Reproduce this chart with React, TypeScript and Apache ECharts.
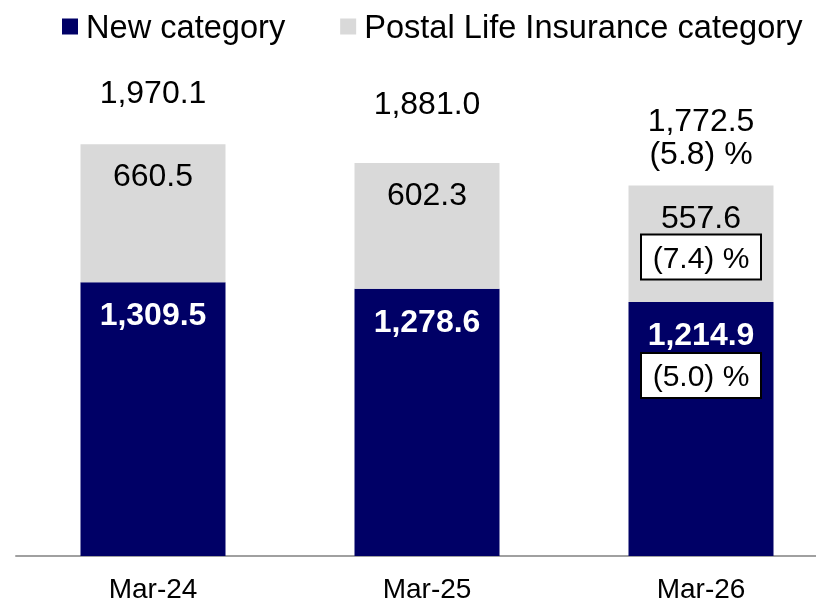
import React, { useEffect, useRef } from "react";
import * as echarts from "echarts";

const categories = ["Mar-24", "Mar-25", "Mar-26"];
const newCategory = [1309.5, 1278.6, 1214.9];
const postalCategory = [660.5, 602.3, 557.6];
const totals = [1970.1, 1881.0, 1772.5];
const changeNew: (number | null)[] = [null, null, -5.0];
const changePostal: (number | null)[] = [null, null, -7.4];
const changeTotal: (number | null)[] = [null, null, -5.8];

// layout constants for total labels (gap above stack top)
const totalLabelGap = [36, 43, 16];

const FONT = '"Liberation Sans", Arial, sans-serif';
const NAVY = "#000066";
const GREY = "#d9d9d9";

const fmt = (v: number) =>
  v.toLocaleString("en-US", { minimumFractionDigits: 1, maximumFractionDigits: 1 });
const fmtPct = (v: number) => `(${Math.abs(v).toFixed(1)}) %`;

const boxStyle = {
  fontSize: 30,
  fontFamily: FONT,
  color: "#000",
  backgroundColor: "#fff",
  borderColor: "#000",
  borderWidth: 2,
  width: 118,
  height: 43,
  lineHeight: 47,
  align: "center" as const,
};

export default function App() {
  const ref = useRef<HTMLDivElement>(null);
  useEffect(() => {
    if (!ref.current) return;
    const chart = echarts.init(ref.current, null, { renderer: "svg" });
    chart.setOption({
      animation: false,
      textStyle: { fontFamily: FONT },
      legend: {
        data: ["New category", "Postal Life Insurance category"],
        left: 62,
        top: 10,
        width: 780,
        padding: 0,
        icon: "rect",
        itemWidth: 16,
        itemHeight: 16,
        itemGap: 55,
        textStyle: { fontSize: 32.6, color: "#000", fontFamily: FONT, padding: [0, 0, 0, 3] },
      },
      grid: { left: 16, right: 0, top: 138, bottom: 42 },
      xAxis: {
        type: "category",
        data: categories,
        axisTick: { show: false },
        axisLine: { lineStyle: { color: "#a0a0a0", width: 2 } },
        axisLabel: { fontSize: 28, color: "#000", margin: 18, fontFamily: FONT },
      },
      yAxis: {
        type: "value",
        min: 0,
        max: 2000,
        show: false,
        splitLine: { show: false },
      },
      series: [
        {
          name: "New category",
          type: "bar",
          stack: "total",
          barWidth: 145,
          itemStyle: { color: NAVY },
          data: newCategory,
          label: {
            show: true,
            position: "insideTop",
            distance: 14,
            formatter: (p: any) => {
              const c = changeNew[p.dataIndex];
              return c == null ? `{v|${fmt(p.value)}}` : `{v|${fmt(p.value)}}\n{box|${fmtPct(c)}}`;
            },
            rich: {
              v: { fontSize: 32, fontWeight: "bold", color: "#fff", lineHeight: 36, fontFamily: FONT },
              box: boxStyle,
            },
          },
        },
        {
          name: "Postal Life Insurance category",
          type: "bar",
          stack: "total",
          barWidth: 145,
          itemStyle: { color: GREY },
          data: postalCategory,
          label: {
            show: true,
            position: "insideTop",
            distance: 14,
            formatter: (p: any) => {
              const c = changePostal[p.dataIndex];
              return c == null ? `{v|${fmt(p.value)}}` : `{v|${fmt(p.value)}}\n{box|${fmtPct(c)}}`;
            },
            rich: {
              v: { fontSize: 32, color: "#000", lineHeight: 34, fontFamily: FONT },
              box: boxStyle,
            },
          },
        },
        {
          name: "Total",
          type: "scatter",
          symbolSize: 0,
          silent: true,
          itemStyle: { opacity: 1, color: "#000" },
          data: totals.map((t, i) => ({
            value: [categories[i], t],
            label: { distance: totalLabelGap[i] },
          })),
          label: {
            show: true,
            position: "top",
            fontSize: 32,
            lineHeight: 33,
            color: "#000",
            fontFamily: FONT,
            formatter: (p: any) => {
              const c = changeTotal[p.dataIndex];
              const t = fmt(p.value[1]);
              return c == null ? t : `${t}\n${fmtPct(c)}`;
            },
          },
        },
      ],
    });
    return () => chart.dispose();
  }, []);
  return (
    <div
      style={{ position: "fixed", left: 0, top: 0, width: 816, height: 602, overflow: "hidden" }}
    >
      <div ref={ref} style={{ width: 838, height: 602 }} />
    </div>
  );
}
